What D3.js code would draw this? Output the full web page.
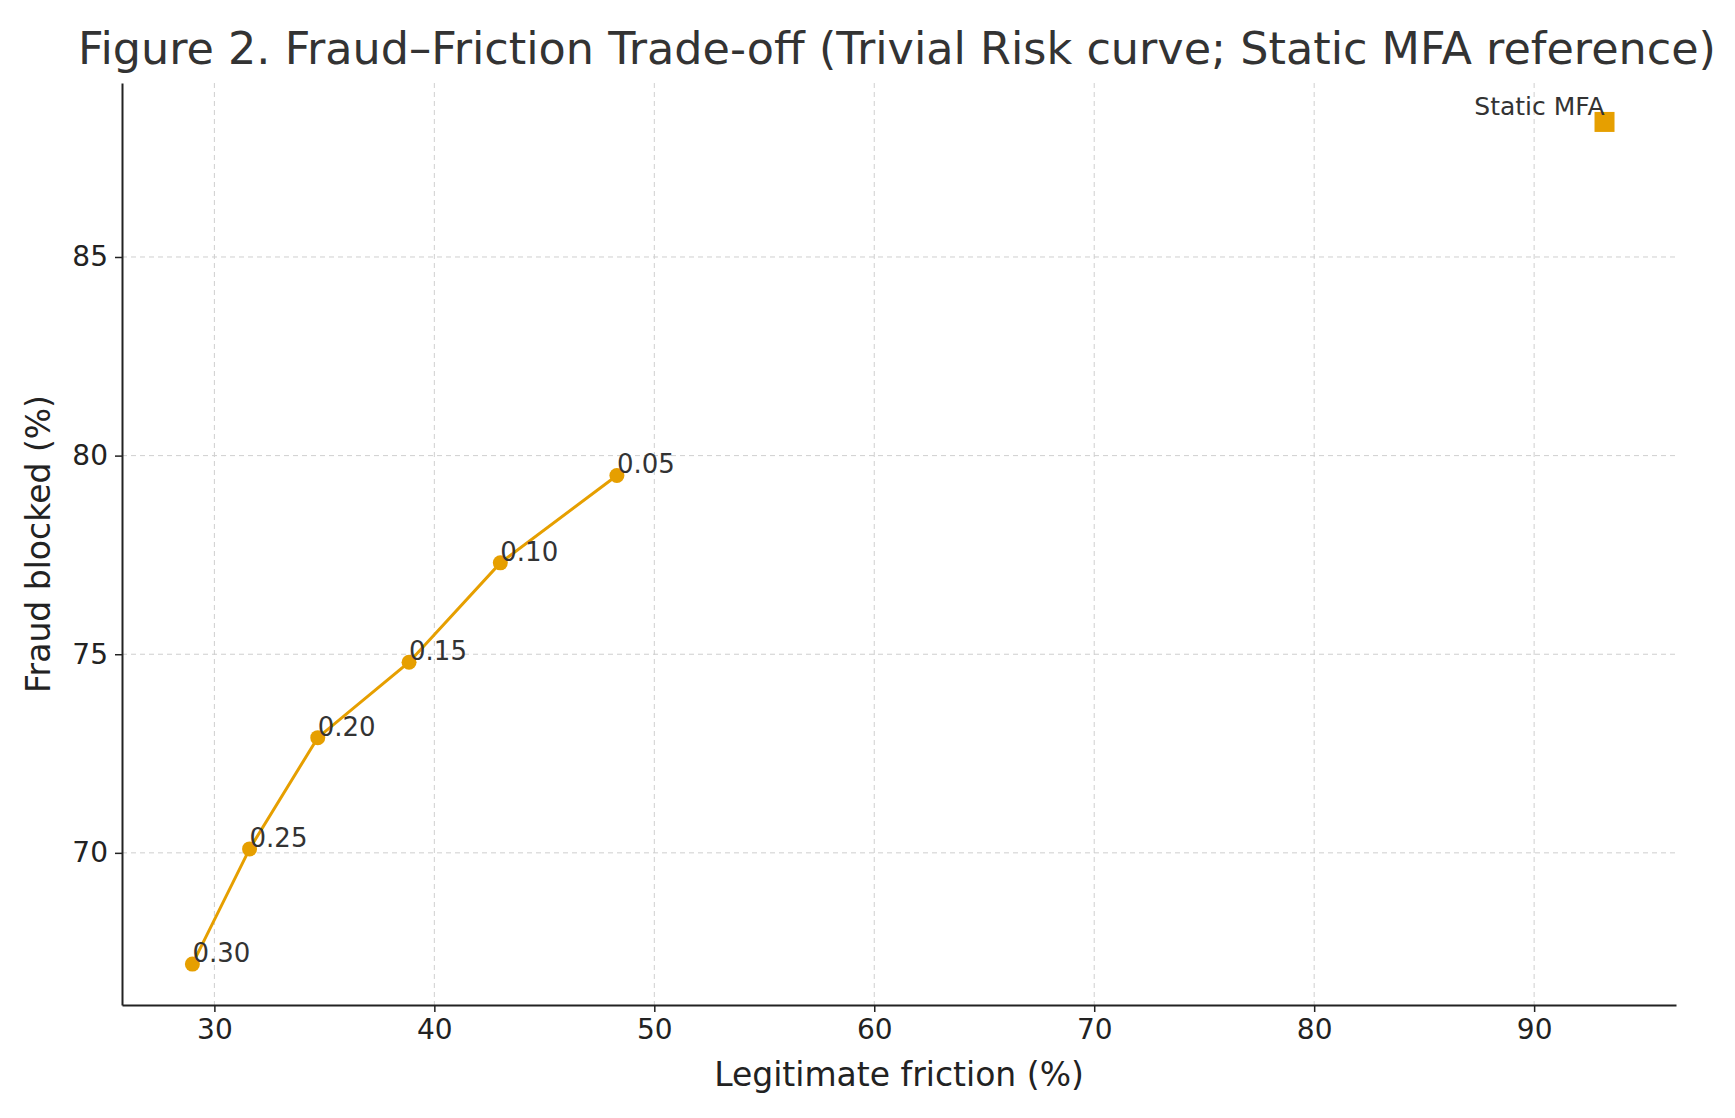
<!DOCTYPE html>
<html lang="en">
<head>
  <meta charset="UTF-8">
  <title>Fraud–Friction Trade-off</title>
  <script src="https://d3js.org/d3.v7.min.js"></script>
  <style>
    body { margin: 0; background: #fff; font-family: 'DejaVu Sans', sans-serif; }
    .grid line { stroke: #cfcfcf; stroke-dasharray: 5,4; stroke-width: 1; }
  </style>
</head>
<body>
  <div id="chart"></div>
  <script>
    // Trivial Risk curve points (threshold, friction %, fraud blocked %)
    const thresholds = ["0.30", "0.25", "0.20", "0.15", "0.10", "0.05"];
    const friction = [29.0, 31.6, 34.7, 38.85, 43.0, 48.3];
    const blocked = [67.2, 70.1, 72.9, 74.8, 77.3, 79.5];
    const staticMfa = { friction: 93.2, blocked: 88.4, label: "Static MFA" };
    const xTicks = [30, 40, 50, 60, 70, 80, 90];
    const yTicks = [70, 75, 80, 85];
    const color = "#E69F00";

    const W = 1735, H = 1118;
    const margin = { top: 83, right: 59, bottom: 113, left: 122 };
    const w = W - margin.left - margin.right;
    const h = H - margin.top - margin.bottom;

    const svg = d3.select("#chart").append("svg")
      .attr("width", W).attr("height", H);
    const g = svg.append("g").attr("transform", `translate(${margin.left},${margin.top})`);

    const x = d3.scaleLinear().domain([25.8, 96.45]).range([0, w]);
    const y = d3.scaleLinear().domain([66.17, 89.38]).range([h, 0]);

    // gridlines
    g.append("g").attr("class", "grid")
      .selectAll("line").data(xTicks).join("line")
      .attr("x1", d => x(d)).attr("x2", d => x(d)).attr("y1", 0).attr("y2", h);
    g.append("g").attr("class", "grid")
      .selectAll("line").data(yTicks).join("line")
      .attr("y1", d => y(d)).attr("y2", d => y(d)).attr("x1", 0).attr("x2", w);

    // axes (left + bottom only)
    const xAxis = g.append("g").attr("transform", `translate(0,${h})`)
      .call(d3.axisBottom(x).tickValues(xTicks).tickSizeInner(7).tickSizeOuter(0).tickPadding(7));
    const yAxis = g.append("g")
      .call(d3.axisLeft(y).tickValues(yTicks).tickSizeInner(7).tickSizeOuter(0).tickPadding(7));
    [xAxis, yAxis].forEach(a => {
      a.select(".domain").attr("stroke", "#222").attr("stroke-width", 2);
      a.selectAll(".tick line").attr("stroke", "#222").attr("stroke-width", 1.5);
      a.selectAll("text").attr("font-family", "DejaVu Sans").attr("font-size", 28).attr("fill", "#222");
    });

    // curve
    const pts = friction.map((f, i) => ({ f, b: blocked[i], t: thresholds[i] }));
    g.append("path").datum(pts)
      .attr("fill", "none").attr("stroke", color).attr("stroke-width", 3)
      .attr("d", d3.line().x(d => x(d.f)).y(d => y(d.b)));
    g.selectAll(".pt").data(pts).join("circle")
      .attr("cx", d => x(d.f)).attr("cy", d => y(d.b)).attr("r", 7.5).attr("fill", color);
    g.selectAll(".lbl").data(pts).join("text")
      .attr("x", d => x(d.f)).attr("y", d => y(d.b) - 2)
      .attr("font-size", 26).attr("fill", "#333")
      .text(d => d.t);

    // Static MFA reference
    g.append("rect")
      .attr("x", x(staticMfa.friction) - 10).attr("y", y(staticMfa.blocked) - 10)
      .attr("width", 20).attr("height", 20).attr("fill", color);
    g.append("text")
      .attr("x", x(staticMfa.friction)).attr("y", y(staticMfa.blocked) - 7)
      .attr("text-anchor", "end").attr("font-size", 25).attr("fill", "#333")
      .text(staticMfa.label);

    // titles
    svg.append("text").attr("x", 897).attr("y", 64).attr("text-anchor", "middle")
      .attr("font-size", 44.5).attr("fill", "#333")
      .text("Figure 2. Fraud–Friction Trade-off (Trivial Risk curve; Static MFA reference)");
    svg.append("text").attr("x", margin.left + w / 2).attr("y", H - 32).attr("text-anchor", "middle")
      .attr("font-size", 33).attr("fill", "#222").text("Legitimate friction (%)");
    svg.append("text")
      .attr("transform", `translate(50,${margin.top + h / 2}) rotate(-90)`)
      .attr("text-anchor", "middle").attr("font-size", 33).attr("fill", "#222")
      .text("Fraud blocked (%)");
  </script>
</body>
</html>
